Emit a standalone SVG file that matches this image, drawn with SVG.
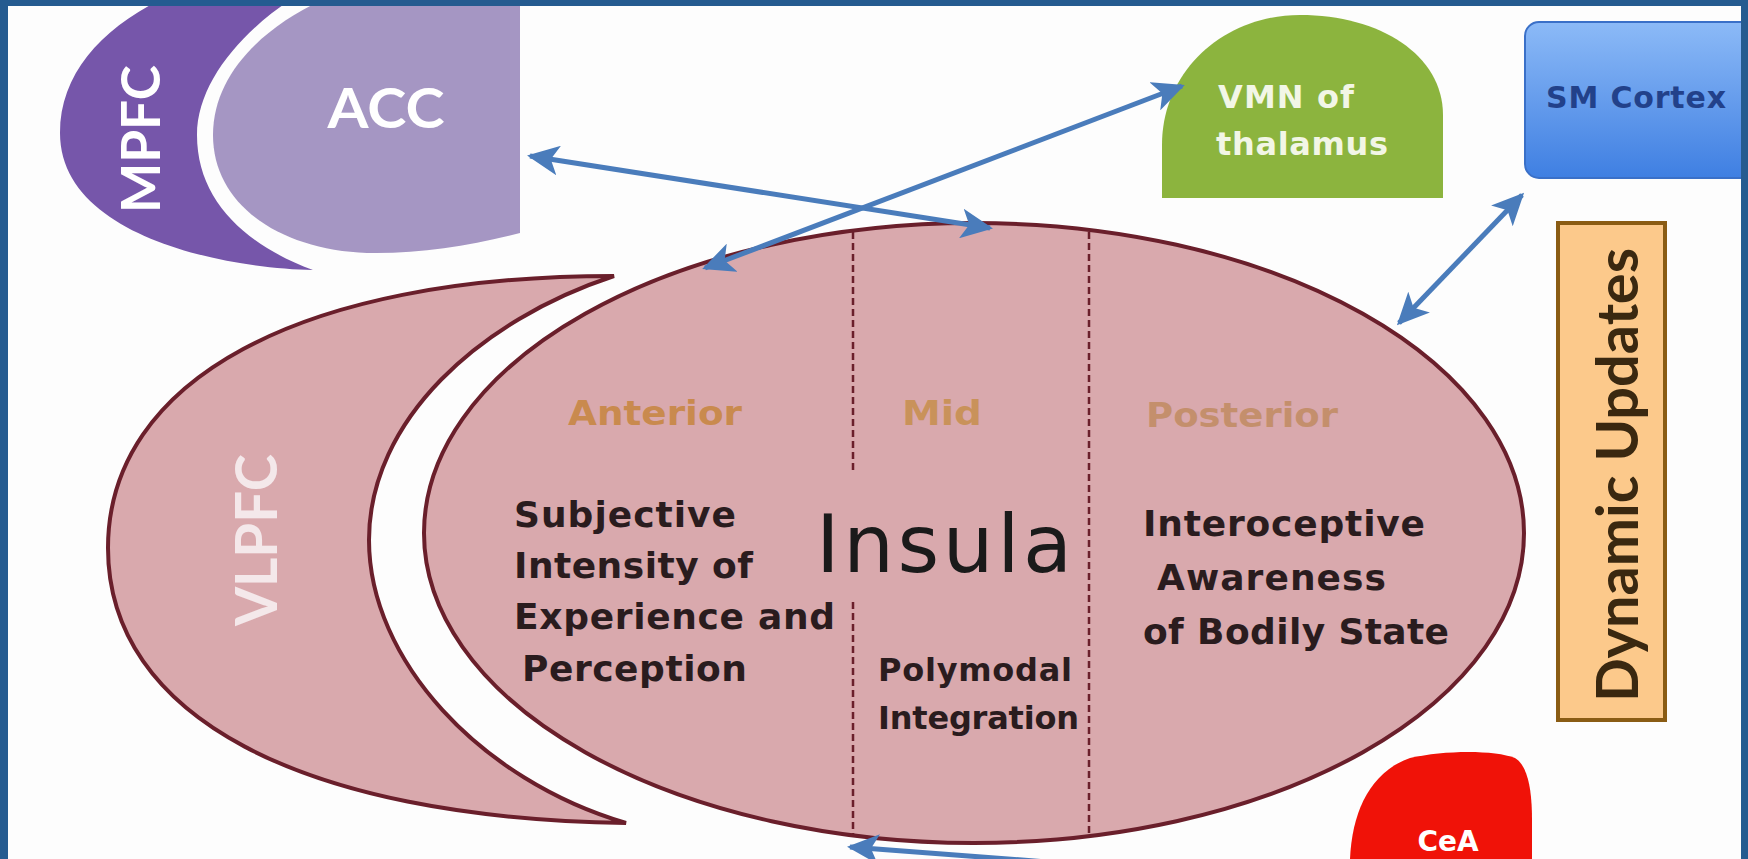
<svg xmlns="http://www.w3.org/2000/svg" width="1748" height="859" viewBox="0 0 1748 859">
<defs>
<style>
.big{font-family:Lato,"Open Sans","Liberation Sans",sans-serif;font-weight:bold}
.sm{font-family:"DejaVu Sans","Liberation Sans",sans-serif;font-weight:bold}
.body{font-family:"DejaVu Sans","Liberation Sans",sans-serif;font-weight:bold;font-size:36px;fill:#2a1c1e}
.body2{font-family:"DejaVu Sans","Liberation Sans",sans-serif;font-weight:bold;font-size:32px;fill:#2a1c1e}
.region{font-family:"DejaVu Sans","Liberation Sans",sans-serif;font-weight:bold;font-size:34px}
.pink{fill:#d9a9ad;stroke:#6a1f2b;stroke-width:4}
.dash{stroke:#6a1f2b;stroke-width:2.5;stroke-dasharray:7 4;fill:none}
.conn{stroke:#4a7cbb;stroke-width:5;fill:none;marker-start:url(#ah);marker-end:url(#ah)}
</style>
<marker id="ah" viewBox="0 0 32 30" refX="29" refY="15" markerWidth="32" markerHeight="30" markerUnits="userSpaceOnUse" orient="auto-start-reverse">
<path d="M0,0 L32,15 L0,30 L8,15 Z" fill="#4a7cbb"/>
</marker>
<linearGradient id="smg" x1="0" y1="0" x2="0" y2="1">
<stop offset="0" stop-color="#8cbaf7"/>
<stop offset="1" stop-color="#3f7fe2"/>
</linearGradient>
</defs>
<rect width="1748" height="859" fill="#fdfdfd"/>

<g id="mpfc">
<path d="M313,270 C220,268 60,235 60,133 C60,75 100,30 160,0 L290,0 C238,35 197,85 197,135 C197,200 245,245 313,270 Z" fill="#7656aa"/>
<text class="big" font-size="54" fill="#ffffff" text-anchor="middle" textLength="148" lengthAdjust="spacingAndGlyphs" transform="translate(160,139) rotate(-90)">MPFC</text>
</g>

<g id="acc">
<path d="M520,0 L520,233 C470,246 420,254 367,253 C280,250 213,205 213,135 C213,75 262,28 322,0 Z" fill="#a596c3"/>
<text class="big" x="386" y="128" font-size="56" fill="#ffffff" text-anchor="middle" textLength="117" lengthAdjust="spacingAndGlyphs">ACC</text>
</g>

<g id="vlpfc">
<path class="pink" d="M614,276 C300,276 108,380 108,548 C108,716 300,818 626,823 C480,780 369,660 369,540 C369,420 480,320 614,276 Z"/>
<text class="big" font-size="58" fill="#f4e8ea" text-anchor="middle" textLength="172" lengthAdjust="spacingAndGlyphs" transform="translate(277,540) rotate(-90)">VLPFC</text>
</g>

<g id="insula">
<ellipse class="pink" cx="974" cy="533" rx="550" ry="310"/>
<line class="dash" x1="853" y1="232" x2="853" y2="474"/>
<line class="dash" x1="853" y1="602" x2="853" y2="834"/>
<line class="dash" x1="1089" y1="232" x2="1089" y2="834"/>
<text class="region" x="568" y="425" fill="#c98a4e" textLength="174" lengthAdjust="spacingAndGlyphs">Anterior</text>
<text class="region" x="902" y="425" fill="#c9925a" textLength="80" lengthAdjust="spacingAndGlyphs">Mid</text>
<text class="region" x="1146" y="427" fill="#c48f6c" textLength="192" lengthAdjust="spacingAndGlyphs">Posterior</text>
<text class="body" x="514" y="527" textLength="222" lengthAdjust="spacing">Subjective</text>
<text class="body" x="514" y="578" textLength="239" lengthAdjust="spacing">Intensity of</text>
<text class="body" x="514" y="629" textLength="321" lengthAdjust="spacing">Experience and</text>
<text class="body" x="522" y="681" textLength="225" lengthAdjust="spacing">Perception</text>
<text x="816" y="572" font-family="'DejaVu Sans','Liberation Sans',sans-serif" font-size="80" fill="#1a1a1a" textLength="256" lengthAdjust="spacing">Insula</text>
<text class="body2" x="878" y="681" textLength="194" lengthAdjust="spacing">Polymodal</text>
<text class="body2" x="878" y="729" textLength="201" lengthAdjust="spacing">Integration</text>
<text class="body" x="1143" y="536" textLength="282" lengthAdjust="spacing">Interoceptive</text>
<text class="body" x="1157" y="590" textLength="229" lengthAdjust="spacing">Awareness</text>
<text class="body" x="1143" y="644" textLength="306" lengthAdjust="spacing">of Bodily State</text>
</g>

<g id="vmn">
<path d="M1162,198 L1162,145 C1162,70 1225,15 1300,15 C1380,15 1443,55 1443,115 L1443,198 Z" fill="#8cb43e"/>
<text class="sm" x="1218" y="108" font-size="32" fill="#f2f6e6" textLength="136" lengthAdjust="spacing">VMN of</text>
<text class="sm" x="1216" y="155" font-size="32" fill="#f2f6e6" textLength="172" lengthAdjust="spacing">thalamus</text>
</g>

<g id="smcortex">
<rect x="1525" y="22" width="240" height="156" rx="14" fill="url(#smg)" stroke="#3a70c8" stroke-width="2"/>
<text class="sm" x="1546" y="108" font-size="30" fill="#22418a" textLength="180" lengthAdjust="spacing">SM Cortex</text>
</g>

<g id="dynamic">
<rect x="1558" y="223" width="107" height="497" fill="#fcc98b" stroke="#8a5c14" stroke-width="4"/>
<text class="big" font-size="58" fill="#3a2810" text-anchor="middle" textLength="454" lengthAdjust="spacingAndGlyphs" transform="translate(1638,475) rotate(-90)">Dynamic Updates</text>
</g>

<g id="cea">
<path d="M1350,859 C1352,812 1370,772 1410,758 C1445,750 1495,750 1515,758 C1528,766 1532,790 1532,820 L1532,859 Z" fill="#f01208"/>
<text class="sm" x="1448" y="851" font-size="28" fill="#ffffff" text-anchor="middle">CeA</text>
</g>

<g id="connectors">
<line class="conn" x1="530" y1="156" x2="990" y2="228"/>
<line class="conn" x1="705" y1="268" x2="1182" y2="86"/>
<line class="conn" x1="1522" y1="195" x2="1399" y2="323"/>
<line x1="850" y1="847" x2="1100" y2="866" stroke="#4a7cbb" stroke-width="5" marker-start="url(#ah)"/>
</g>

<g id="frame" fill="#255b90">
<rect x="0" y="0" width="1748" height="6"/>
<rect x="0" y="0" width="8" height="859"/>
<rect x="1741" y="0" width="7" height="859"/>
</g>
</svg>
